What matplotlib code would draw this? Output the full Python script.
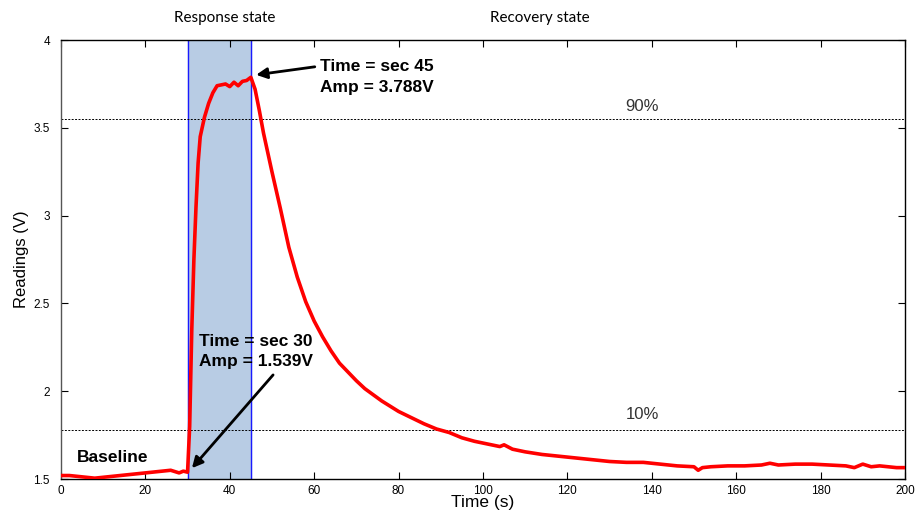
import matplotlib
matplotlib.use("Agg")
import matplotlib.pyplot as plt

# sensor reading vs time
time_s = [0, 2, 4, 6, 8, 10, 12, 14, 16, 18, 20, 22, 24, 26, 28, 29, 30,
          30.5, 31, 31.5, 32, 32.5, 33, 34, 35, 36, 37, 38, 39, 40, 41, 42, 43, 44, 45,
          46, 47, 48, 49, 50, 52, 54, 56, 58, 60, 62, 64, 66, 68, 70, 72, 74, 76, 78, 80,
          83, 86, 89, 92, 95, 98, 101, 104, 105, 107, 110, 114, 118, 122, 126, 130,
          134, 138, 142, 146, 150, 151, 152, 154, 158, 162, 166, 168, 170, 174, 178,
          182, 186, 188, 190, 192, 194, 198, 200]
readings = [1.52, 1.52, 1.515, 1.51, 1.505, 1.51, 1.515, 1.52, 1.525, 1.53, 1.535, 1.54,
            1.545, 1.55, 1.535, 1.545, 1.539,
            1.80, 2.35, 2.75, 3.05, 3.30, 3.45, 3.56, 3.64, 3.70, 3.74, 3.745, 3.75, 3.735,
            3.76, 3.74, 3.765, 3.77, 3.788,
            3.72, 3.60, 3.47, 3.36, 3.25, 3.04, 2.82, 2.65, 2.51, 2.40, 2.31, 2.23, 2.16,
            2.11, 2.06, 2.015, 1.98, 1.945, 1.915, 1.885,
            1.85, 1.815, 1.785, 1.765, 1.735, 1.715, 1.70, 1.685, 1.695, 1.67, 1.655,
            1.64, 1.63, 1.62, 1.61, 1.60,
            1.595, 1.595, 1.585, 1.575, 1.57, 1.55, 1.565, 1.57, 1.575, 1.575, 1.58,
            1.59, 1.58, 1.585, 1.585,
            1.58, 1.575, 1.565, 1.585, 1.57, 1.575, 1.565, 1.565]

level_90 = 3.55
level_10 = 1.78
response_start, response_end = 30, 45

fig = plt.figure(figsize=(9.18, 5.14), dpi=100)
ax = fig.add_axes([0.0664, 0.068, 0.9194, 0.854])

ax.axvspan(response_start, response_end, color="#b8cce4", zorder=1)
ax.axvline(response_start, color="#1a1aff", lw=1.0, zorder=2)
ax.axvline(response_end, color="#1a1aff", lw=1.0, zorder=2)
ax.axhline(level_90, color="black", ls=(0, (2, 1.5)), lw=0.7, zorder=2)
ax.axhline(level_10, color="black", ls=(0, (2, 1.5)), lw=0.7, zorder=2)

ax.plot(time_s, readings, color="#ff0000", lw=2.6, zorder=3)

ax.set_xlim(0, 200)
ax.set_ylim(1.5, 4)
ax.set_xticks(range(0, 201, 20))
ax.set_yticks([1.5, 2, 2.5, 3, 3.5, 4])
ax.set_yticklabels(["1.5", "2", "2.5", "3", "3.5", "4"])
ax.tick_params(direction="in", top=True, right=True, length=5, labelsize=8.5)
ax.tick_params(axis="x", pad=4)
ax.tick_params(axis="y", pad=8)
for lab in ax.get_xticklabels() + ax.get_yticklabels():
    lab.set_family("Liberation Sans")
for sp in ax.spines.values():
    sp.set_linewidth(1.0)
ax.spines["left"].set_color("#555555")

ax.set_xlabel("Time (s)", fontsize=12.5, family="Liberation Sans", labelpad=-1)
ax.set_ylabel("Readings (V)", fontsize=12, family="Liberation Sans", labelpad=3)

ax.text(137.7, 3.62, "90%", fontsize=12, color="#333333", ha="center", va="center",
        family="Liberation Sans")
ax.text(137.7, 1.87, "10%", fontsize=12, color="#333333", ha="center", va="center",
        family="Liberation Sans")

bold = dict(fontsize=12.5, fontweight="bold", family="Liberation Sans", color="black")
ax.text(61.3, 3.79, "Time = sec 45\nAmp = 3.788V", ha="left", va="center",
        linespacing=1.45, zorder=5, **bold)
ax.text(32.7, 2.225, "Time = sec 30\nAmp = 1.539V", ha="left", va="center",
        linespacing=1.45, zorder=5, **bold)
ax.text(3.8, 1.625, "Baseline", ha="left", va="center", **bold)

arrow = dict(arrowstyle="-|>", color="black", lw=2.0, mutation_scale=16)
ax.annotate("", xy=(45.6, 3.80), xytext=(60.8, 3.85), arrowprops=arrow, zorder=5)
ax.annotate("", xy=(30.6, 1.55), xytext=(50.7, 2.105), arrowprops=arrow, zorder=5)

fig.text(225 / 918, 1 - 18 / 514, "Response state", fontsize=11, family="Lato",
         ha="center", va="center")
fig.text(540 / 918, 1 - 18 / 514, "Recovery state", fontsize=11, family="Lato",
         ha="center", va="center")

fig.savefig("out.png", dpi=100)
